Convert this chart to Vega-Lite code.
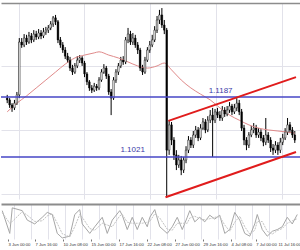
{
  "$schema": "https://vega.github.io/schema/vega-lite/v6.json",
  "padding": {"left": 0, "right": 0, "top": 3, "bottom": 0},
  "spacing": 2,
  "background": "white",
  "config": {"view": {"stroke": null}, "font": "Liberation Sans"},
  "datasets": {
    "candles": [
      {"i":0,"o":1.1184,"h":1.1193,"l":1.1170,"c":1.1179},
      {"i":1,"o":1.1179,"h":1.1184,"l":1.1157,"c":1.1165},
      {"i":2,"o":1.1165,"h":1.1170,"l":1.1146,"c":1.1157},
      {"i":3,"o":1.1157,"h":1.1179,"l":1.1151,"c":1.1170},
      {"i":4,"o":1.1170,"h":1.1201,"l":1.1165,"c":1.1193},
      {"i":5,"o":1.1193,"h":1.1350,"l":1.1184,"c":1.1339},
      {"i":6,"o":1.1339,"h":1.1350,"l":1.1323,"c":1.1331},
      {"i":7,"o":1.1331,"h":1.1361,"l":1.1325,"c":1.1350},
      {"i":8,"o":1.1350,"h":1.1359,"l":1.1331,"c":1.1339},
      {"i":9,"o":1.1339,"h":1.1367,"l":1.1334,"c":1.1356},
      {"i":10,"o":1.1356,"h":1.1364,"l":1.1336,"c":1.1345},
      {"i":11,"o":1.1345,"h":1.1372,"l":1.1339,"c":1.1361},
      {"i":12,"o":1.1361,"h":1.1370,"l":1.1345,"c":1.1353},
      {"i":13,"o":1.1353,"h":1.1375,"l":1.1347,"c":1.1364},
      {"i":14,"o":1.1364,"h":1.1372,"l":1.1347,"c":1.1356},
      {"i":15,"o":1.1356,"h":1.1378,"l":1.1350,"c":1.1367},
      {"i":16,"o":1.1367,"h":1.1381,"l":1.1359,"c":1.1372},
      {"i":17,"o":1.1372,"h":1.1386,"l":1.1364,"c":1.1378},
      {"i":18,"o":1.1378,"h":1.1397,"l":1.1372,"c":1.1389},
      {"i":19,"o":1.1389,"h":1.1411,"l":1.1381,"c":1.1406},
      {"i":20,"o":1.1406,"h":1.1414,"l":1.1386,"c":1.1395},
      {"i":21,"o":1.1395,"h":1.1400,"l":1.1336,"c":1.1345},
      {"i":22,"o":1.1345,"h":1.1353,"l":1.1323,"c":1.1331},
      {"i":23,"o":1.1331,"h":1.1339,"l":1.1309,"c":1.1317},
      {"i":24,"o":1.1317,"h":1.1325,"l":1.1292,"c":1.1300},
      {"i":25,"o":1.1300,"h":1.1309,"l":1.1281,"c":1.1289},
      {"i":26,"o":1.1289,"h":1.1298,"l":1.1259,"c":1.1267},
      {"i":27,"o":1.1267,"h":1.1276,"l":1.1248,"c":1.1256},
      {"i":28,"o":1.1256,"h":1.1281,"l":1.1251,"c":1.1273},
      {"i":29,"o":1.1273,"h":1.1300,"l":1.1267,"c":1.1289},
      {"i":30,"o":1.1289,"h":1.1303,"l":1.1281,"c":1.1295},
      {"i":31,"o":1.1295,"h":1.1300,"l":1.1273,"c":1.1281},
      {"i":32,"o":1.1281,"h":1.1287,"l":1.1242,"c":1.1251},
      {"i":33,"o":1.1251,"h":1.1256,"l":1.1220,"c":1.1229},
      {"i":34,"o":1.1229,"h":1.1234,"l":1.1204,"c":1.1212},
      {"i":35,"o":1.1212,"h":1.1220,"l":1.1198,"c":1.1206},
      {"i":36,"o":1.1206,"h":1.1226,"l":1.1201,"c":1.1217},
      {"i":37,"o":1.1217,"h":1.1223,"l":1.1204,"c":1.1212},
      {"i":38,"o":1.1212,"h":1.1242,"l":1.1206,"c":1.1234},
      {"i":39,"o":1.1234,"h":1.1264,"l":1.1229,"c":1.1256},
      {"i":40,"o":1.1256,"h":1.1278,"l":1.1251,"c":1.1267},
      {"i":41,"o":1.1267,"h":1.1273,"l":1.1237,"c":1.1245},
      {"i":42,"o":1.1245,"h":1.1251,"l":1.1193,"c":1.1201},
      {"i":43,"o":1.1201,"h":1.1209,"l":1.1137,"c":1.1184},
      {"i":44,"o":1.1184,"h":1.1242,"l":1.1179,"c":1.1234},
      {"i":45,"o":1.1234,"h":1.1264,"l":1.1226,"c":1.1256},
      {"i":46,"o":1.1256,"h":1.1281,"l":1.1248,"c":1.1273},
      {"i":47,"o":1.1273,"h":1.1298,"l":1.1267,"c":1.1289},
      {"i":48,"o":1.1289,"h":1.1300,"l":1.1276,"c":1.1284},
      {"i":49,"o":1.1284,"h":1.1353,"l":1.1278,"c":1.1345},
      {"i":50,"o":1.1345,"h":1.1378,"l":1.1336,"c":1.1361},
      {"i":51,"o":1.1361,"h":1.1370,"l":1.1331,"c":1.1339},
      {"i":52,"o":1.1339,"h":1.1364,"l":1.1331,"c":1.1350},
      {"i":53,"o":1.1350,"h":1.1359,"l":1.1323,"c":1.1331},
      {"i":54,"o":1.1331,"h":1.1339,"l":1.1306,"c":1.1317},
      {"i":55,"o":1.1317,"h":1.1323,"l":1.1259,"c":1.1267},
      {"i":56,"o":1.1267,"h":1.1276,"l":1.1248,"c":1.1256},
      {"i":57,"o":1.1256,"h":1.1298,"l":1.1251,"c":1.1289},
      {"i":58,"o":1.1289,"h":1.1325,"l":1.1284,"c":1.1317},
      {"i":59,"o":1.1317,"h":1.1342,"l":1.1309,"c":1.1331},
      {"i":60,"o":1.1331,"h":1.1359,"l":1.1325,"c":1.1345},
      {"i":61,"o":1.1345,"h":1.1383,"l":1.1339,"c":1.1372},
      {"i":62,"o":1.1372,"h":1.1411,"l":1.1364,"c":1.1400},
      {"i":63,"o":1.1400,"h":1.1428,"l":1.1389,"c":1.1414},
      {"i":64,"o":1.1414,"h":1.1433,"l":1.1378,"c":1.1386},
      {"i":65,"o":1.1386,"h":1.1400,"l":1.1361,"c":1.1372},
      {"i":66,"o":1.1372,"h":1.1378,"l":1.0910,"c":1.1040},
      {"i":67,"o":1.1040,"h":1.1123,"l":1.1027,"c":1.1110},
      {"i":68,"o":1.1110,"h":1.1118,"l":1.1054,"c":1.1068},
      {"i":69,"o":1.1068,"h":1.1076,"l":1.1013,"c":1.1027},
      {"i":70,"o":1.1027,"h":1.1040,"l":1.0985,"c":1.0999},
      {"i":71,"o":1.0999,"h":1.1027,"l":1.0991,"c":1.1013},
      {"i":72,"o":1.1013,"h":1.1024,"l":1.0971,"c":1.0985},
      {"i":73,"o":1.0985,"h":1.1021,"l":1.0977,"c":1.1013},
      {"i":74,"o":1.1013,"h":1.1051,"l":1.1004,"c":1.1040},
      {"i":75,"o":1.1040,"h":1.1079,"l":1.1032,"c":1.1068},
      {"i":76,"o":1.1068,"h":1.1076,"l":1.1046,"c":1.1054},
      {"i":77,"o":1.1054,"h":1.1093,"l":1.1046,"c":1.1082},
      {"i":78,"o":1.1082,"h":1.1107,"l":1.1074,"c":1.1096},
      {"i":79,"o":1.1096,"h":1.1104,"l":1.1065,"c":1.1074},
      {"i":80,"o":1.1074,"h":1.1112,"l":1.1068,"c":1.1101},
      {"i":81,"o":1.1101,"h":1.1129,"l":1.1096,"c":1.1118},
      {"i":82,"o":1.1118,"h":1.1126,"l":1.1087,"c":1.1096},
      {"i":83,"o":1.1096,"h":1.1134,"l":1.1090,"c":1.1123},
      {"i":84,"o":1.1123,"h":1.1151,"l":1.1115,"c":1.1137},
      {"i":85,"o":1.1137,"h":1.1157,"l":1.1021,"c":1.1123},
      {"i":86,"o":1.1123,"h":1.1154,"l":1.1115,"c":1.1146},
      {"i":87,"o":1.1146,"h":1.1157,"l":1.1129,"c":1.1137},
      {"i":88,"o":1.1137,"h":1.1148,"l":1.1121,"c":1.1129},
      {"i":89,"o":1.1129,"h":1.1162,"l":1.1121,"c":1.1151},
      {"i":90,"o":1.1151,"h":1.1159,"l":1.1132,"c":1.1140},
      {"i":91,"o":1.1140,"h":1.1162,"l":1.1134,"c":1.1151},
      {"i":92,"o":1.1151,"h":1.1173,"l":1.1143,"c":1.1162},
      {"i":93,"o":1.1162,"h":1.1168,"l":1.1137,"c":1.1146},
      {"i":94,"o":1.1146,"h":1.1168,"l":1.1140,"c":1.1157},
      {"i":95,"o":1.1157,"h":1.1184,"l":1.1148,"c":1.1170},
      {"i":96,"o":1.1170,"h":1.1179,"l":1.1137,"c":1.1146},
      {"i":97,"o":1.1146,"h":1.1154,"l":1.1093,"c":1.1101},
      {"i":98,"o":1.1101,"h":1.1110,"l":1.1054,"c":1.1068},
      {"i":99,"o":1.1068,"h":1.1076,"l":1.1040,"c":1.1054},
      {"i":100,"o":1.1054,"h":1.1090,"l":1.1046,"c":1.1082},
      {"i":101,"o":1.1082,"h":1.1107,"l":1.1076,"c":1.1096},
      {"i":102,"o":1.1096,"h":1.1115,"l":1.1087,"c":1.1101},
      {"i":103,"o":1.1101,"h":1.1110,"l":1.1074,"c":1.1082},
      {"i":104,"o":1.1082,"h":1.1101,"l":1.1074,"c":1.1090},
      {"i":105,"o":1.1090,"h":1.1098,"l":1.1065,"c":1.1074},
      {"i":106,"o":1.1074,"h":1.1082,"l":1.1051,"c":1.1062},
      {"i":107,"o":1.1062,"h":1.1129,"l":1.1054,"c":1.1082},
      {"i":108,"o":1.1082,"h":1.1090,"l":1.1060,"c":1.1068},
      {"i":109,"o":1.1068,"h":1.1076,"l":1.1035,"c":1.1046},
      {"i":110,"o":1.1046,"h":1.1057,"l":1.1027,"c":1.1040},
      {"i":111,"o":1.1040,"h":1.1065,"l":1.1032,"c":1.1054},
      {"i":112,"o":1.1054,"h":1.1062,"l":1.1027,"c":1.1040},
      {"i":113,"o":1.1040,"h":1.1074,"l":1.1032,"c":1.1062},
      {"i":114,"o":1.1062,"h":1.1085,"l":1.1054,"c":1.1074},
      {"i":115,"o":1.1074,"h":1.1101,"l":1.1068,"c":1.1090},
      {"i":116,"o":1.1090,"h":1.1129,"l":1.1082,"c":1.1110},
      {"i":117,"o":1.1110,"h":1.1118,"l":1.1087,"c":1.1096},
      {"i":118,"o":1.1096,"h":1.1104,"l":1.1074,"c":1.1082},
      {"i":119,"o":1.1082,"h":1.1093,"l":1.1060,"c":1.1068}
    ],
    "ma": [
      {"i":0,"ma":1.1146},{"i":4,"ma":1.1170},{"i":8,"ma":1.1190},{"i":12,"ma":1.1212},
      {"i":16,"ma":1.1234},{"i":20,"ma":1.1256},{"i":24,"ma":1.1278},{"i":28,"ma":1.1295},
      {"i":32,"ma":1.1303},{"i":36,"ma":1.1309},{"i":38,"ma":1.1312},{"i":42,"ma":1.1303},
      {"i":46,"ma":1.1295},{"i":50,"ma":1.1284},{"i":54,"ma":1.1273},{"i":58,"ma":1.1267},
      {"i":62,"ma":1.1273},{"i":65,"ma":1.1281},{"i":68,"ma":1.1262},{"i":72,"ma":1.1234},
      {"i":76,"ma":1.1212},{"i":80,"ma":1.1195},{"i":84,"ma":1.1179},{"i":88,"ma":1.1157},
      {"i":92,"ma":1.1137},{"i":96,"ma":1.1123},{"i":100,"ma":1.1110},{"i":104,"ma":1.1101},
      {"i":108,"ma":1.1096},{"i":112,"ma":1.1093},{"i":116,"ma":1.1090},{"i":119,"ma":1.1087}
    ],
    "channel": [
      {"line":"upper","i":66.7,"p":1.1121},{"line":"upper","i":119.5,"p":1.1242},
      {"line":"lower","i":65.5,"p":1.0910},{"line":"lower","i":119.5,"p":1.1035}
    ],
    "levels": [
      {"price":1.1187,"label":"1.1187"},
      {"price":1.1021,"label":"1.1021"}
    ],
    "stoch": [
      {"i":0,"k":81,"d":75},{"i":3,"k":16,"d":45},{"i":4,"k":89,"d":50},{"i":8,"k":81,"d":78},
      {"i":10,"k":54,"d":68},{"i":13,"k":43,"d":50},{"i":16,"k":62,"d":52},{"i":18,"k":76,"d":66},
      {"i":20,"k":70,"d":72},{"i":22,"k":16,"d":45},{"i":24,"k":3,"d":15},{"i":27,"k":8,"d":6},
      {"i":29,"k":70,"d":35},{"i":31,"k":84,"d":70},{"i":32,"k":43,"d":62},{"i":35,"k":16,"d":30},
      {"i":37,"k":35,"d":25},{"i":40,"k":62,"d":45},{"i":42,"k":16,"d":40},{"i":44,"k":54,"d":35},
      {"i":47,"k":81,"d":66},{"i":48,"k":68,"d":70},{"i":50,"k":27,"d":48},{"i":52,"k":62,"d":45},
      {"i":54,"k":27,"d":45},{"i":56,"k":62,"d":45},{"i":58,"k":35,"d":48},{"i":59,"k":62,"d":50},
      {"i":61,"k":84,"d":72},{"i":63,"k":35,"d":60},{"i":66,"k":16,"d":28},{"i":68,"k":35,"d":25},
      {"i":70,"k":62,"d":45},{"i":72,"k":27,"d":45},{"i":74,"k":62,"d":45},{"i":75,"k":81,"d":60},
      {"i":77,"k":49,"d":65},{"i":79,"k":62,"d":58},{"i":81,"k":49,"d":55},{"i":83,"k":68,"d":58},
      {"i":85,"k":57,"d":62},{"i":87,"k":68,"d":64},{"i":89,"k":16,"d":40},{"i":91,"k":27,"d":22},
      {"i":93,"k":76,"d":48},{"i":95,"k":54,"d":65},{"i":97,"k":16,"d":35},{"i":99,"k":8,"d":14},
      {"i":101,"k":43,"d":25},{"i":102,"k":70,"d":50},{"i":104,"k":27,"d":50},{"i":106,"k":8,"d":22},
      {"i":108,"k":22,"d":14},{"i":110,"k":27,"d":24},{"i":112,"k":35,"d":30},{"i":114,"k":62,"d":45},
      {"i":116,"k":43,"d":52},{"i":118,"k":70,"d":58}
    ]
  },
  "vconcat": [
    {
      "width": 300,
      "height": 196,
      "layer": [
        {
          "data": {"name": "candles"},
          "mark": {"type": "rule", "color": "#000000", "strokeWidth": 1},
          "encoding": {
            "x": {"field": "i", "type": "quantitative",
                  "scale": {"domain": [-0.5, 119.5], "nice": false, "zero": false},
                  "axis": {"orient": "top", "title": null, "labels": false, "ticks": false,
                           "domain": true, "domainColor": "#8c8c8c", "domainWidth": 1.5,
                           "grid": true, "gridColor": "#e2e2ea", "gridWidth": 1,
                           "values": [4.7, 11.5, 18.3, 25.1, 31.9, 38.7, 45.5, 52.3, 59.1, 65.9, 72.7, 79.5, 86.3, 93.1, 99.9, 106.7, 113.5]}},
            "y": {"field": "l", "type": "quantitative",
                  "scale": {"domain": [1.0905, 1.1447], "nice": false, "zero": false},
                  "axis": {"title": null, "labels": false, "ticks": false, "domain": false,
                           "grid": true, "gridColor": "#e2e2ea", "gridWidth": 1,
                           "values": [1.0919, 1.0963, 1.1007, 1.1051, 1.1096, 1.1140, 1.1184, 1.1229, 1.1273, 1.1317, 1.1361, 1.1406]}},
            "y2": {"field": "h"}
          }
        },
        {
          "data": {"name": "ma"},
          "mark": {"type": "line", "color": "#e08a8a", "strokeWidth": 1, "interpolate": "monotone"},
          "encoding": {
            "x": {"field": "i", "type": "quantitative"},
            "y": {"field": "ma", "type": "quantitative"}
          }
        },
        {
          "data": {"name": "candles"},
          "mark": {"type": "bar", "width": 1.6, "stroke": "#000000", "strokeWidth": 0.5},
          "encoding": {
            "x": {"field": "i", "type": "quantitative"},
            "y": {"field": "o", "type": "quantitative"},
            "y2": {"field": "c"},
            "fill": {"condition": {"test": "datum.c > datum.o", "value": "#ffffff"}, "value": "#000000"}
          }
        },
        {
          "data": {"name": "levels"},
          "mark": {"type": "rule", "color": "#4646c6", "strokeWidth": 1.5},
          "encoding": {
            "y": {"field": "price", "type": "quantitative"}
          }
        },
        {
          "data": {"name": "levels"},
          "transform": [{"filter": "datum.price == 1.1187"}],
          "mark": {"type": "text", "color": "#3a3aa8", "fontSize": 8, "baseline": "bottom", "dy": -2, "font": "Liberation Sans"},
          "encoding": {
            "x": {"datum": 88.3, "type": "quantitative"},
            "y": {"field": "price", "type": "quantitative"},
            "text": {"field": "label"}
          }
        },
        {
          "data": {"name": "levels"},
          "transform": [{"filter": "datum.price == 1.1021"}],
          "mark": {"type": "text", "color": "#3a3aa8", "fontSize": 8, "baseline": "bottom", "dy": -3, "font": "Liberation Sans"},
          "encoding": {
            "x": {"datum": 51.9, "type": "quantitative"},
            "y": {"field": "price", "type": "quantitative"},
            "text": {"field": "label"}
          }
        },
        {
          "data": {"name": "channel"},
          "mark": {"type": "line", "color": "#e01c1c", "strokeWidth": 2},
          "encoding": {
            "x": {"field": "i", "type": "quantitative"},
            "y": {"field": "p", "type": "quantitative"},
            "detail": {"field": "line"}
          }
        }
      ]
    },
    {
      "width": 300,
      "height": 35,
      "data": {"name": "stoch"},
      "layer": [
        {
          "mark": {"type": "line", "color": "#a6a6a6", "strokeWidth": 1},
          "encoding": {
            "x": {"field": "i", "type": "quantitative",
                  "scale": {"domain": [-0.5, 119.5], "nice": false, "zero": false},
                  "axis": {"orient": "top", "title": null, "labels": false, "ticks": false,
                           "domain": true, "domainColor": "#8c8c8c", "domainWidth": 2,
                           "grid": true, "gridColor": "#e2e2ea",
                           "values": [4.7, 11.5, 18.3, 25.1, 31.9, 38.7, 45.5, 52.3, 59.1, 65.9, 72.7, 79.5, 86.3, 93.1, 99.9, 106.7, 113.5]}},
            "y": {"field": "k", "type": "quantitative", "scale": {"domain": [0, 100], "nice": false}, "axis": null}
          }
        },
        {
          "mark": {"type": "line", "color": "#c2c2c2", "strokeWidth": 1, "strokeDash": [2, 1]},
          "encoding": {
            "x": {"field": "i", "type": "quantitative",
                  "axis": {"orient": "bottom", "title": null, "grid": false, "domain": false,
                           "ticks": true, "tickSize": 2, "tickColor": "#777777",
                           "labelFontSize": 4.2, "labelColor": "#333333",
                           "labelAlign": {"condition": {"test": "datum.value > 110", "value": "right"}, "value": "left"},
                           "labelPadding": 1, "labelOverlap": false, "labelFlush": false,
                           "values": [2.3, 13.1, 24.3, 35.5, 46.7, 57.9, 69.1, 80.3, 91.5, 101.4, 119.3],
                           "labelExpr": "datum.value<5?'3 Jun 00:00':datum.value<20?'7 Jun 16:00':datum.value<30?'10 Jun 08:00':datum.value<40?'15 Jun 00:00':datum.value<50?'17 Jun 16:00':datum.value<60?'22 Jun 08:00':datum.value<75?'27 Jun 00:00':datum.value<85?'29 Jun 16:00':datum.value<95?'4 Jul 08:00':datum.value<108?'7 Jul 00:00':'11 Jul 16:00'"}},
            "y": {"field": "d", "type": "quantitative", "axis": null}
          }
        }
      ],
      "resolve": {"axis": {"x": "independent"}}
    }
  ]
}
